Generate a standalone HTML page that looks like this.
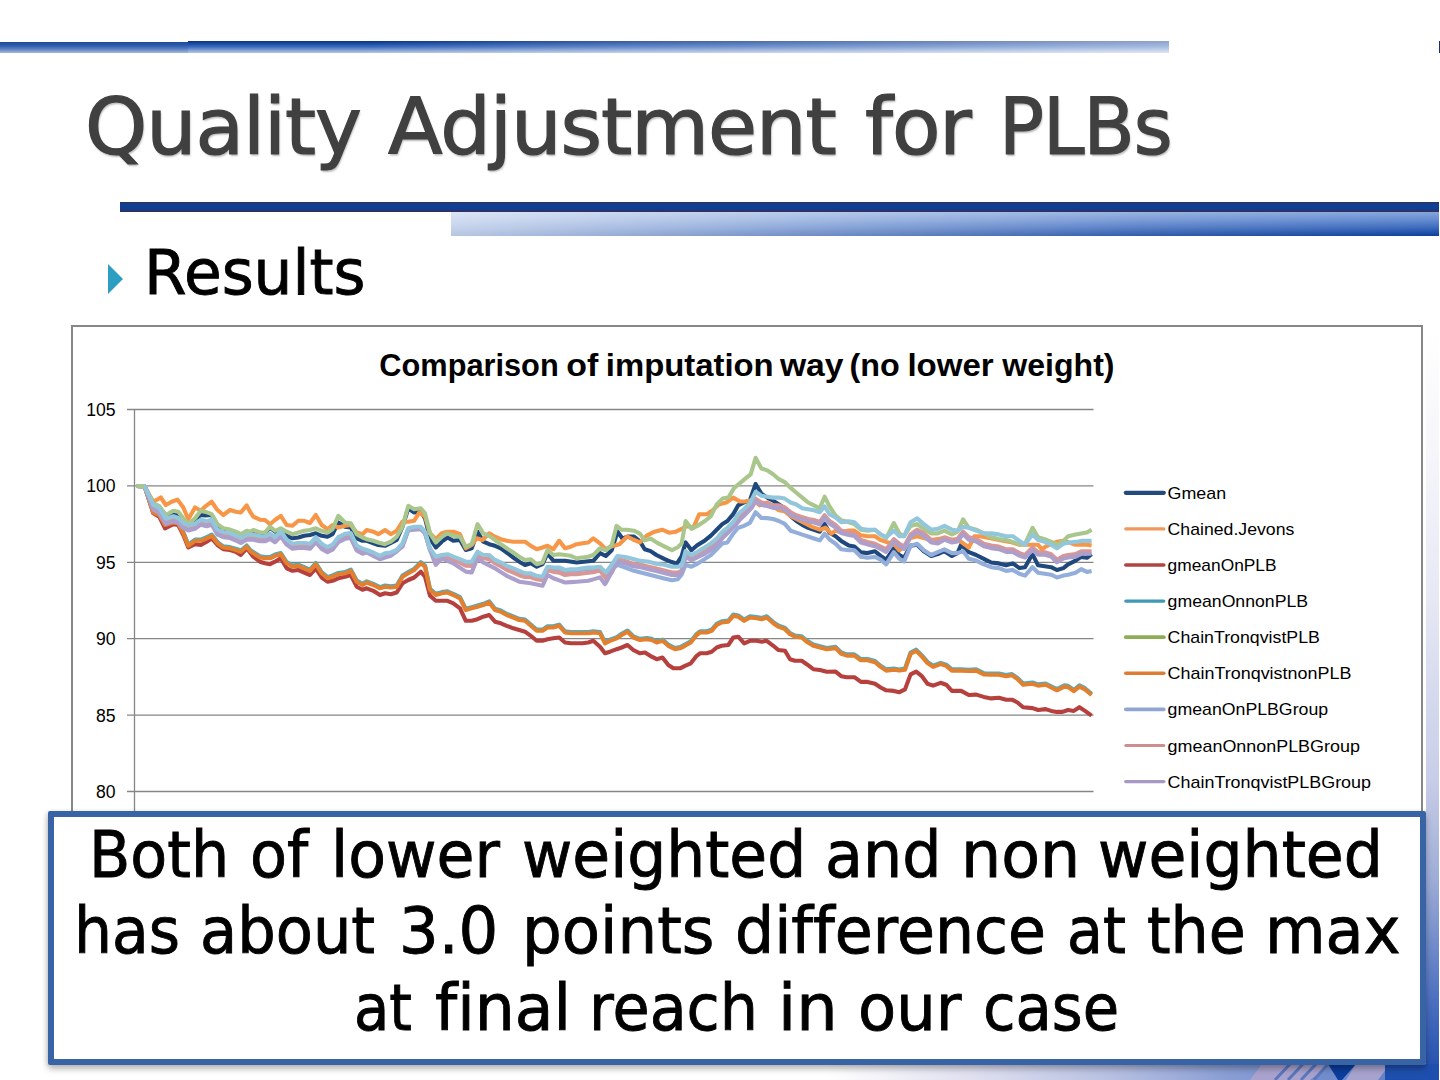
<!DOCTYPE html>
<html><head><meta charset="utf-8"><title>Quality Adjustment for PLBs</title>
<style>
*{margin:0;padding:0;box-sizing:border-box}
html,body{width:1440px;height:1080px;overflow:hidden;background:#fff}
body{position:relative;font-family:"DejaVu Sans","Liberation Sans",sans-serif}
.abs{position:absolute}
#topbarL{left:0;top:42px;width:189px;height:10.5px;background:linear-gradient(to bottom,#1c4a96 0%,#2e5eae 35%,#5b82c4 65%,#a7b8dc 100%)}
#topbarR{left:188px;top:41px;width:981px;height:11.5px;
  background:linear-gradient(to right,rgba(255,255,255,0) 0%,rgba(255,255,255,0) 18%,rgba(255,255,255,.2) 45%,rgba(255,255,255,.42) 80%,rgba(255,255,255,.55) 100%),
  linear-gradient(to bottom,#0a3182 0%,#1d4fa4 25%,#3f6dbd 50%,#7c9cd2 75%,#b9c6e6 100%)}
#topnub{left:1439px;top:41px;width:1px;height:12px;background:#1a2f6e}
#title span{position:absolute;top:72px;font-size:78px;line-height:110px;color:#404040;white-space:nowrap;letter-spacing:-1px;
  -webkit-text-stroke:1.2px #404040;text-shadow:1px 2px 2px rgba(0,0,0,.28);transform-origin:0 0}
#bar1{left:120px;top:202px;width:1319px;height:10px;background:linear-gradient(to bottom,#2c3264 0%,#163e8e 25%,#0a4198 50%,#163c88 75%,#3a2c5c 100%)}
#bar2{left:451px;top:212px;width:988px;height:24px;
  background:linear-gradient(to right,rgba(255,255,255,.7) 0%,rgba(255,255,255,.42) 35%,rgba(255,255,255,.15) 70%,rgba(255,255,255,0) 100%),
  linear-gradient(to bottom,#86a6da 0%,#6189cf 35%,#3d6abd 65%,#1c4ea6 88%,#0c3f9c 100%)}
#bullet{left:108px;top:264px;width:0;height:0;border-top:15px solid transparent;border-bottom:15px solid transparent;border-left:15.5px solid #2b9ec2}
#results{font-size:63px;line-height:76px;color:#000;-webkit-text-stroke:0.9px #000;white-space:nowrap;transform-origin:0 0}
#chart{left:71px;top:325px;width:1352px;height:600px;border:2px solid #878787;background:#fff}
#svg{left:0;top:0}
#box{left:48px;top:811px;width:1378px;height:253.5px;border:6px solid #3864a6;background:#fff;border-radius:2px;
  box-shadow:0 4px 6px rgba(0,0,0,.28), -2px 0 4px rgba(0,0,0,.08)}
.bw{position:absolute;font-variant-ligatures:none;font-size:64px;line-height:76px;color:#000;-webkit-text-stroke:0.9px #000;white-space:nowrap;transform-origin:0 0}
</style></head><body>
<div class="abs" id="topbarL"></div>
<div class="abs" id="topbarR"></div>
<div class="abs" id="topnub"></div>
<div class="abs" id="title"><span style="left:84.94px;transform:scaleX(1.0150)">Quality</span><span style="left:388.00px;transform:scaleX(1.0229)">Adjustment</span><span style="left:864.98px;transform:scaleX(1.0160)">for</span><span style="left:999.30px;transform:scaleX(0.9560)">PLBs</span></div>
<div class="abs" id="bar1"></div>
<div class="abs" id="bar2"></div>
<div class="abs" id="bullet"></div>
<div class="abs" id="results" style="left:144.16px;top:235.3px;transform:scaleX(0.974)">Results</div>
<svg class="abs" style="left:0;top:0" width="1440" height="1080">
<defs>
<linearGradient id="rg" x1="0" y1="0" x2="0" y2="1">
<stop offset="0" stop-color="#ffffff"/>
<stop offset="0.16" stop-color="#f6f6fb"/>
<stop offset="0.36" stop-color="#e6e8f4"/>
<stop offset="0.6" stop-color="#c8cde8"/>
<stop offset="0.733" stop-color="#9eacd6"/>
<stop offset="0.893" stop-color="#4c70c0"/>
<stop offset="1" stop-color="#1e4cac"/>
</linearGradient>
<linearGradient id="bg" x1="0" y1="0" x2="1" y2="0">
<stop offset="0" stop-color="#ffffff"/>
<stop offset="0.58" stop-color="#ffffff"/>
<stop offset="0.68" stop-color="#e0e0f0"/>
<stop offset="0.78" stop-color="#b7c0e2"/>
<stop offset="0.86" stop-color="#8a9ed4"/>
<stop offset="1" stop-color="#5a7cc4"/>
</linearGradient>
</defs>
<rect x="1426" y="330" width="13" height="750" fill="url(#rg)"/>
<rect x="0" y="1064" width="1426" height="16" fill="url(#bg)"/>
<polygon points="1250,1080 1262,1064 1330,1064 1310,1080" fill="#a9a2cc"/>
<polygon points="1328,1064 1356,1064 1342,1080 1338,1080" fill="#0c3c9c"/>
<polygon points="1356,1064 1390,1064 1378,1080 1346,1080" fill="#a7a3cf"/>
<path d="M1275,1080 L1290,1064 M1288,1080 L1303,1064 M1301,1080 L1316,1064 M1314,1080 L1328,1064" stroke="#5b77bf" stroke-width="3"/>
<rect x="1385" y="1064" width="54" height="16" fill="#1f4fae"/>
<rect x="1439" y="330" width="1" height="750" fill="#ffffff"/>
</svg>
<div class="abs" id="chart"></div>
<svg class="abs" id="svg" width="1440" height="1080" viewBox="0 0 1440 1080">
<g font-family="Liberation Sans, sans-serif" font-weight="bold" font-size="31.9" fill="#000">
<text x="379.30" y="375.8" textLength="179.40" lengthAdjust="spacingAndGlyphs">Comparison</text>
<text x="566.20" y="375.8" textLength="32.00" lengthAdjust="spacingAndGlyphs">of</text>
<text x="605.80" y="375.8" textLength="167.90" lengthAdjust="spacingAndGlyphs">imputation</text>
<text x="779.90" y="375.8" textLength="63.60" lengthAdjust="spacingAndGlyphs">way</text>
<text x="849.60" y="375.8" textLength="50.20" lengthAdjust="spacingAndGlyphs">(no</text>
<text x="907.40" y="375.8" textLength="86.30" lengthAdjust="spacingAndGlyphs">lower</text>
<text x="1002.30" y="375.8" textLength="112.20" lengthAdjust="spacingAndGlyphs">weight)</text>
</g>
<g stroke="#868686" stroke-width="1.3">
<line x1="127" y1="409.50" x2="1093.5" y2="409.50"/>
<line x1="127" y1="485.90" x2="1093.5" y2="485.90"/>
<line x1="127" y1="562.30" x2="1093.5" y2="562.30"/>
<line x1="127" y1="638.70" x2="1093.5" y2="638.70"/>
<line x1="127" y1="715.10" x2="1093.5" y2="715.10"/>
<line x1="127" y1="791.50" x2="1093.5" y2="791.50"/>
<line x1="134.5" y1="409" x2="134.5" y2="830"/>
</g>
<g font-family="Liberation Sans, sans-serif" font-size="17.6" fill="#000">
<text x="115.5" y="416.00" text-anchor="end">105</text>
<text x="115.5" y="492.40" text-anchor="end">100</text>
<text x="115.5" y="568.80" text-anchor="end">95</text>
<text x="115.5" y="645.20" text-anchor="end">90</text>
<text x="115.5" y="721.60" text-anchor="end">85</text>
<text x="115.5" y="798.00" text-anchor="end">80</text>
</g>
<g fill="none" stroke-width="4.1" stroke-linejoin="round" stroke-linecap="butt">
<path d="M136.5,486.0 L144.5,486.2 L153.3,503.8 L159.2,506.7 L165.8,515.8 L173.3,513.8 L178.3,515.0 L183.3,520.0 L188.3,525.0 L195.0,519.2 L200.8,515.0 L205.0,515.4 L211.7,515.0 L217.5,525.0 L223.3,529.2 L230.0,530.4 L235.8,532.5 L240.8,535.0 L246.7,531.7 L250.0,532.5 L253.3,530.8 L260.0,533.3 L265.0,533.3 L270.0,527.5 L275.0,531.7 L280.8,530.8 L286.7,535.8 L292.5,538.3 L298.3,537.5 L304.2,535.8 L310.0,535.0 L315.8,533.3 L321.7,535.8 L327.5,536.7 L332.5,534.2 L338.3,522.5 L345.0,526.7 L350.8,527.5 L356.7,538.3 L362.5,540.8 L366.7,540.8 L378.3,545.0 L385.0,545.8 L396.7,540.0 L402.5,526.7 L408.3,508.3 L414.2,512.5 L420.8,511.7 L425.0,518.3 L430.0,538.3 L435.8,547.5 L441.7,541.7 L447.5,537.5 L453.3,540.8 L460.0,540.0 L465.8,550.0 L471.7,548.3 L477.5,531.7 L483.3,541.7 L489.2,544.2 L495.0,545.8 L500.8,548.3 L506.7,552.5 L513.3,557.5 L519.2,561.7 L525.0,565.0 L530.8,563.3 L536.7,566.7 L542.5,564.2 L547.5,553.3 L553.3,560.8 L565.0,560.8 L576.7,562.5 L593.3,560.8 L600.0,553.1 L605.8,556.0 L611.7,550.2 L617.5,531.7 L622.4,538.5 L628.2,536.5 L634.0,536.5 L639.9,541.4 L644.7,549.2 L650.6,551.1 L656.4,555.0 L664.2,558.9 L671.0,561.8 L676.8,563.8 L681.7,556.0 L685.6,542.4 L691.4,550.2 L697.2,545.3 L705.0,540.4 L710.9,535.6 L716.7,529.7 L722.5,523.9 L727.4,521.0 L733.2,514.2 L738.1,505.4 L743.9,502.5 L749.8,500.6 L755.6,484.0 L761.4,493.8 L767.3,497.6 L773.1,500.6 L778.9,504.5 L784.8,508.3 L790.6,516.1 L796.4,521.0 L802.3,524.9 L808.1,527.8 L813.9,529.7 L819.8,531.7 L824.6,523.9 L829.5,532.7 L835.6,536.2 L841.2,540.9 L848.8,545.6 L854.4,546.6 L860.9,552.2 L867.5,553.1 L875.0,551.2 L880.6,555.9 L886.2,559.7 L893.8,548.4 L899.4,555.0 L904.1,557.8 L910.6,545.6 L917.2,544.7 L923.8,551.2 L931.2,555.9 L937.8,554.1 L944.4,551.2 L951.9,555.9 L957.5,553.1 L961.2,544.7 L968.8,552.2 L976.2,555.0 L983.8,558.8 L991.2,562.5 L998.8,563.4 L1006.2,565.3 L1012.8,563.4 L1019.4,568.1 L1025.0,567.2 L1032.5,554.1 L1038.1,565.3 L1044.7,566.2 L1051.2,567.2 L1056.9,570.0 L1063.4,568.1 L1068.1,564.4 L1075.6,560.6 L1081.2,556.9 L1086.9,557.8 L1091.6,554.1" stroke="#1F497D"/>
<path d="M136.5,486.0 L144.5,486.2 L153.3,501.7 L160.8,497.5 L165.8,505.0 L171.7,501.7 L177.5,499.6 L183.3,507.5 L188.3,519.2 L195.0,507.5 L200.8,510.8 L205.0,506.7 L211.7,501.7 L216.7,509.2 L223.3,515.0 L230.0,510.0 L235.8,511.7 L240.8,512.5 L246.7,505.4 L250.0,511.7 L253.3,516.7 L260.0,519.7 L265.0,520.0 L270.0,524.2 L275.0,520.0 L280.8,515.8 L286.7,525.0 L292.5,525.8 L298.3,520.8 L304.2,520.8 L310.0,523.0 L315.8,515.0 L321.7,525.0 L327.5,529.2 L332.5,525.0 L338.3,527.5 L345.0,525.8 L350.8,525.0 L356.7,532.5 L362.5,534.2 L366.7,530.0 L373.3,531.7 L378.3,534.2 L385.0,530.0 L390.8,534.2 L396.7,530.8 L402.5,521.7 L408.3,521.7 L414.2,520.8 L419.2,512.5 L425.0,516.7 L430.0,533.3 L435.8,539.2 L441.7,533.3 L447.5,531.7 L453.3,531.7 L460.0,534.2 L465.8,548.3 L471.7,545.0 L476.7,538.3 L482.5,540.0 L489.2,533.3 L495.0,536.7 L500.8,539.2 L506.7,540.8 L513.3,541.7 L519.2,541.7 L525.0,541.7 L530.8,545.8 L536.7,549.2 L542.5,547.5 L547.5,545.8 L553.3,549.2 L559.2,540.8 L565.0,548.3 L570.8,546.7 L576.7,544.2 L582.5,543.3 L588.3,542.5 L593.3,538.3 L600.0,543.4 L605.8,549.2 L611.7,546.3 L619.4,544.3 L627.2,536.5 L633.1,539.5 L639.9,542.4 L646.7,535.6 L654.5,531.7 L662.2,529.7 L669.0,532.7 L675.9,531.7 L681.7,528.8 L687.5,525.9 L693.4,527.8 L699.2,514.2 L707.0,514.2 L712.8,510.3 L718.6,504.5 L726.4,502.5 L733.2,497.6 L740.0,501.5 L745.9,501.5 L753.6,499.6 L759.5,505.4 L767.3,502.5 L773.1,506.4 L778.9,510.3 L784.8,511.3 L790.6,516.1 L796.4,519.0 L804.2,522.9 L812.0,526.8 L819.8,529.7 L825.6,527.8 L831.4,533.6 L835.6,530.6 L841.2,532.5 L848.8,530.6 L854.4,530.6 L860.9,535.3 L867.5,536.2 L875.0,536.2 L880.6,540.0 L886.2,541.9 L893.8,543.8 L899.4,550.3 L904.1,546.6 L910.6,538.1 L917.2,536.2 L923.8,538.1 L931.2,540.0 L937.8,539.1 L944.4,538.1 L951.9,540.0 L957.5,539.1 L961.2,541.9 L968.8,547.5 L974.4,536.2 L980.0,536.2 L989.4,538.1 L998.8,540.0 L1010.0,541.9 L1019.4,544.7 L1026.9,544.7 L1032.5,544.7 L1038.1,544.7 L1041.9,549.4 L1045.6,546.6 L1051.2,543.8 L1056.9,541.9 L1063.4,540.9 L1070.0,542.8 L1075.6,544.7 L1081.2,544.7 L1086.9,544.7 L1091.6,545.6" stroke="#F79646"/>
<path d="M136.5,486.0 L144.5,486.2 L153.3,513.3 L159.2,516.7 L165.0,528.3 L173.3,524.2 L178.3,525.0 L183.3,535.0 L188.3,547.5 L195.0,544.2 L200.8,545.0 L206.7,541.7 L211.7,538.3 L217.5,545.0 L223.3,549.2 L230.0,550.0 L235.8,551.7 L240.8,555.0 L246.7,548.3 L250.0,552.5 L253.3,556.7 L260.0,561.7 L265.0,563.3 L270.0,564.2 L275.0,561.7 L280.8,558.3 L286.7,568.3 L292.5,570.8 L298.3,570.0 L304.2,572.5 L310.0,575.0 L315.8,568.3 L321.7,577.5 L327.5,581.7 L332.5,580.8 L338.3,578.3 L345.0,576.7 L350.8,575.0 L356.7,586.7 L362.5,589.7 L366.7,588.3 L373.3,590.8 L380.0,595.0 L385.0,593.3 L390.8,594.2 L396.7,592.5 L402.5,583.3 L408.3,580.0 L414.2,577.5 L420.8,571.7 L425.0,576.7 L430.0,595.8 L435.8,600.8 L441.7,600.8 L447.5,600.8 L453.3,603.3 L460.0,608.3 L465.8,620.8 L471.7,620.8 L477.5,619.2 L483.3,616.7 L489.2,615.0 L495.0,621.7 L500.8,623.3 L506.7,625.8 L513.3,628.3 L519.2,630.0 L525.0,631.7 L530.8,635.8 L536.7,640.8 L542.5,640.8 L547.5,639.2 L553.3,638.3 L559.2,637.5 L565.0,642.5 L570.8,643.3 L576.7,643.3 L582.5,643.3 L588.3,642.5 L593.3,640.8 L600.0,646.7 L605.0,653.3 L610.0,651.7 L616.7,649.2 L621.7,647.5 L627.5,645.0 L633.3,650.0 L640.0,653.3 L645.0,652.5 L651.7,656.7 L656.7,659.2 L662.5,657.5 L668.3,665.0 L673.3,668.3 L680.0,668.3 L685.0,665.8 L690.8,663.3 L696.7,655.8 L700.0,653.3 L706.7,653.3 L711.7,651.7 L716.7,647.5 L721.7,645.8 L728.3,645.0 L733.3,637.5 L738.3,636.7 L744.2,643.3 L750.0,640.8 L756.7,640.8 L761.7,641.7 L766.7,640.8 L773.3,645.8 L778.3,650.0 L785.0,650.8 L790.0,659.2 L795.0,660.8 L801.7,660.8 L806.7,664.2 L813.3,669.2 L820.0,670.0 L826.7,671.7 L835.6,671.6 L841.2,676.2 L846.9,677.2 L854.4,677.2 L860.9,681.9 L867.5,681.9 L875.0,683.8 L880.6,687.5 L886.2,690.3 L893.8,690.9 L899.4,692.2 L905.0,689.4 L910.6,674.4 L916.2,671.6 L921.9,676.2 L927.5,683.8 L933.1,685.6 L940.6,682.8 L946.2,684.7 L951.9,690.9 L961.2,690.9 L968.8,695.0 L976.2,694.6 L983.8,696.9 L991.2,698.4 L998.8,697.8 L1006.2,699.7 L1011.9,699.7 L1017.5,702.5 L1023.1,707.2 L1032.5,708.1 L1038.1,710.0 L1045.6,709.1 L1051.2,710.9 L1056.9,711.9 L1062.5,711.9 L1068.1,710.0 L1073.8,710.9 L1079.4,707.2 L1085.0,710.9 L1091.6,715.6" stroke="#B5403E"/>
<path d="M136.5,486.0 L144.5,486.2 L153.3,511.3 L159.2,513.8 L165.0,523.8 L173.3,521.3 L178.3,522.1 L183.3,532.1 L188.3,544.6 L195.0,539.6 L200.8,539.6 L206.7,537.1 L211.7,534.6 L217.5,542.1 L223.3,546.3 L230.0,547.1 L235.8,548.8 L240.8,550.5 L246.7,545.5 L250.0,549.6 L253.3,552.1 L260.0,556.3 L265.0,557.1 L270.0,557.1 L275.0,554.6 L280.8,553.0 L286.7,562.1 L292.5,565.5 L298.3,564.6 L304.2,567.1 L310.0,569.6 L315.8,563.0 L321.7,572.1 L327.5,577.1 L332.5,575.5 L338.3,573.0 L345.0,572.1 L350.8,569.6 L356.7,580.5 L362.5,583.8 L366.7,581.3 L373.3,583.8 L380.0,587.1 L385.0,585.5 L390.8,586.3 L396.7,585.5 L402.5,575.5 L408.3,572.1 L414.2,568.8 L420.8,562.1 L425.0,565.5 L430.0,588.8 L435.8,593.8 L441.7,592.1 L447.5,591.3 L453.3,593.8 L460.0,597.1 L465.8,608.8 L471.7,607.1 L477.5,605.5 L483.3,603.8 L489.2,601.3 L495.0,608.8 L500.8,610.5 L506.7,613.8 L513.3,616.3 L519.2,618.8 L525.0,619.6 L530.8,624.6 L536.7,629.6 L542.5,629.6 L547.5,626.3 L553.3,626.3 L559.2,624.6 L565.0,631.3 L570.8,632.1 L576.7,632.1 L582.5,632.1 L588.3,632.1 L593.3,631.3 L600.0,632.1 L605.0,642.1 L610.0,639.6 L616.7,637.1 L621.7,633.8 L627.5,630.5 L633.3,636.3 L640.0,638.8 L646.7,638.0 L651.7,638.8 L656.7,641.3 L662.5,639.6 L668.3,644.6 L675.0,648.0 L680.0,647.1 L685.0,644.6 L690.8,641.3 L696.7,633.8 L700.0,631.3 L706.7,631.3 L711.7,629.6 L716.7,623.8 L721.7,621.3 L728.3,620.5 L733.3,614.6 L738.3,615.5 L744.2,619.6 L750.0,616.3 L756.7,617.1 L761.7,618.0 L766.7,616.3 L773.3,622.1 L778.3,625.5 L785.0,628.0 L790.0,633.0 L795.0,635.5 L801.7,636.3 L806.7,640.5 L813.3,644.6 L820.0,646.3 L826.7,648.0 L835.6,646.9 L841.2,652.5 L846.9,654.4 L854.4,654.4 L860.9,659.1 L867.5,659.1 L875.0,661.0 L880.6,665.7 L886.2,669.4 L893.8,668.5 L899.4,669.4 L905.0,668.5 L910.6,652.5 L916.2,649.7 L921.9,655.4 L927.5,661.9 L933.1,665.7 L940.6,662.9 L946.2,664.7 L951.9,669.4 L961.2,669.4 L968.8,669.8 L976.2,669.4 L983.8,673.2 L991.2,673.5 L998.8,673.5 L1006.2,675.0 L1011.9,674.1 L1017.5,677.9 L1023.1,683.5 L1032.5,682.5 L1038.1,684.4 L1045.6,683.5 L1051.2,686.3 L1056.9,689.1 L1064.4,685.4 L1068.1,685.9 L1073.8,690.0 L1079.4,685.4 L1085.0,688.2 L1091.6,693.8" stroke="#4BACC6"/>
<path d="M136.5,486.0 L144.5,486.2 L153.3,503.3 L159.2,506.2 L165.8,515.0 L173.3,510.8 L178.3,511.7 L183.3,518.3 L188.3,524.2 L195.0,518.3 L200.8,510.8 L205.0,511.7 L211.7,514.2 L217.5,524.2 L223.3,528.3 L230.0,529.6 L235.8,531.7 L240.8,534.2 L246.7,530.8 L250.0,531.7 L253.3,530.0 L260.0,532.5 L265.0,532.5 L270.0,526.7 L275.0,530.8 L280.8,528.3 L286.7,531.7 L292.5,534.2 L298.3,532.5 L304.2,530.8 L310.0,530.0 L315.8,528.3 L321.7,530.8 L327.5,532.5 L332.5,529.2 L338.3,515.8 L345.0,522.5 L350.8,523.3 L356.7,534.2 L362.5,537.5 L366.7,539.2 L373.3,540.8 L378.3,542.5 L385.0,544.2 L390.8,541.7 L396.7,536.7 L402.5,526.7 L408.3,505.8 L414.2,509.2 L420.8,508.3 L425.0,513.3 L430.0,533.3 L435.8,542.5 L441.7,536.7 L447.5,533.3 L453.3,535.8 L460.0,536.7 L465.8,546.7 L471.7,544.2 L477.5,524.2 L483.3,533.3 L489.2,535.8 L495.0,540.0 L500.8,544.2 L506.7,548.3 L513.3,552.5 L519.2,556.7 L525.0,560.0 L530.8,559.2 L536.7,564.2 L542.5,562.5 L547.5,550.0 L553.3,555.0 L559.2,554.2 L565.0,555.0 L570.8,555.8 L576.7,558.3 L582.5,557.5 L588.3,556.7 L593.3,555.0 L600.0,548.2 L605.8,550.2 L611.7,545.3 L616.5,525.9 L621.4,529.7 L627.2,529.7 L634.0,530.7 L639.9,533.6 L644.7,540.4 L650.6,538.5 L656.4,542.4 L664.2,546.3 L672.0,550.2 L677.8,547.2 L681.7,543.4 L685.6,521.0 L691.4,528.8 L697.2,525.9 L705.0,521.0 L710.9,516.1 L716.7,504.5 L722.5,498.6 L728.4,497.6 L734.2,487.9 L740.0,483.1 L745.9,478.2 L750.7,474.3 L755.6,457.8 L761.4,468.5 L767.3,470.4 L773.1,474.3 L778.9,479.2 L784.8,482.1 L790.6,487.9 L796.4,492.8 L802.3,497.6 L808.1,502.5 L813.9,505.4 L819.8,508.3 L824.6,496.7 L829.5,506.4 L835.6,515.6 L841.2,520.3 L848.8,522.2 L854.4,524.1 L860.9,529.7 L867.5,530.6 L875.0,529.7 L880.6,534.4 L886.2,538.1 L893.8,523.1 L899.4,533.4 L904.1,536.2 L910.6,525.9 L917.2,524.1 L923.8,528.8 L931.2,533.4 L937.8,533.4 L944.4,530.6 L951.9,534.4 L957.5,531.6 L963.1,519.4 L968.8,527.8 L976.2,529.7 L983.8,533.4 L991.2,537.2 L998.8,539.1 L1006.2,540.0 L1012.8,541.9 L1019.4,544.7 L1025.0,543.8 L1032.5,527.8 L1038.1,537.2 L1044.7,539.1 L1051.2,541.9 L1056.9,544.7 L1063.4,540.9 L1068.1,536.2 L1075.6,534.4 L1081.2,533.4 L1086.9,532.5 L1091.6,529.7" stroke="#A9C68C"/>
<path d="M136.5,486.0 L144.5,486.2 L153.3,512.5 L159.2,515.0 L165.0,525.0 L173.3,522.5 L178.3,523.3 L183.3,533.3 L188.3,545.8 L195.0,540.8 L200.8,540.8 L206.7,538.3 L211.7,535.8 L217.5,543.3 L223.3,547.5 L230.0,548.3 L235.8,550.0 L240.8,551.7 L246.7,546.7 L250.0,550.8 L253.3,553.3 L260.0,557.5 L265.0,558.3 L270.0,558.3 L275.0,555.8 L280.8,554.2 L286.7,563.3 L292.5,566.7 L298.3,565.8 L304.2,568.3 L310.0,570.8 L315.8,564.2 L321.7,573.3 L327.5,578.3 L332.5,576.7 L338.3,574.2 L345.0,573.3 L350.8,570.8 L356.7,581.7 L362.5,585.0 L366.7,582.5 L373.3,585.0 L380.0,588.3 L385.0,586.7 L390.8,587.5 L396.7,586.7 L402.5,576.7 L408.3,573.3 L414.2,570.0 L420.8,563.3 L425.0,566.7 L430.0,590.0 L435.8,595.0 L441.7,593.3 L447.5,592.5 L453.3,595.0 L460.0,598.3 L465.8,610.0 L471.7,608.3 L477.5,606.7 L483.3,605.0 L489.2,602.5 L495.0,610.0 L500.8,611.7 L506.7,615.0 L513.3,617.5 L519.2,620.0 L525.0,620.8 L530.8,625.8 L536.7,630.8 L542.5,630.8 L547.5,627.5 L553.3,627.5 L559.2,625.8 L565.0,632.5 L570.8,633.3 L576.7,633.3 L582.5,633.3 L588.3,633.3 L593.3,632.5 L600.0,633.3 L605.0,643.3 L610.0,640.8 L616.7,638.3 L621.7,635.0 L627.5,631.7 L633.3,637.5 L640.0,640.0 L646.7,639.2 L651.7,640.0 L656.7,642.5 L662.5,640.8 L668.3,645.8 L675.0,649.2 L680.0,648.3 L685.0,645.8 L690.8,642.5 L696.7,635.0 L700.0,632.5 L706.7,632.5 L711.7,630.8 L716.7,625.0 L721.7,622.5 L728.3,621.7 L733.3,615.8 L738.3,616.7 L744.2,620.8 L750.0,617.5 L756.7,618.3 L761.7,619.2 L766.7,617.5 L773.3,623.3 L778.3,626.7 L785.0,629.2 L790.0,634.2 L795.0,636.7 L801.7,637.5 L806.7,641.7 L813.3,645.8 L820.0,647.5 L826.7,649.2 L835.6,648.1 L841.2,653.8 L846.9,655.6 L854.4,655.6 L860.9,660.3 L867.5,660.3 L875.0,662.2 L880.6,666.9 L886.2,670.6 L893.8,669.7 L899.4,670.6 L905.0,669.7 L910.6,653.8 L916.2,650.9 L921.9,656.6 L927.5,663.1 L933.1,666.9 L940.6,664.1 L946.2,665.9 L951.9,670.6 L961.2,670.6 L968.8,671.0 L976.2,670.6 L983.8,674.4 L991.2,674.8 L998.8,674.8 L1006.2,676.2 L1011.9,675.3 L1017.5,679.1 L1023.1,684.7 L1032.5,683.8 L1038.1,685.6 L1045.6,684.7 L1051.2,687.5 L1056.9,690.3 L1064.4,686.6 L1068.1,687.1 L1073.8,691.2 L1079.4,686.6 L1085.0,689.4 L1091.6,695.0" stroke="#E3802E"/>
<path d="M136.5,486.0 L144.5,486.2 L153.3,506.1 L159.2,509.6 L165.8,520.3 L173.3,517.8 L178.3,519.5 L183.3,524.5 L188.3,527.0 L195.0,525.3 L200.8,521.2 L206.7,522.8 L211.7,521.2 L217.5,531.2 L223.3,533.7 L230.0,534.5 L235.8,537.0 L240.8,539.5 L246.7,536.2 L250.0,536.2 L253.3,536.2 L260.0,537.8 L265.0,537.8 L270.0,535.3 L275.0,538.7 L280.8,532.9 L286.7,541.2 L292.5,545.3 L298.3,544.5 L304.2,544.5 L310.0,545.3 L315.8,538.7 L321.7,545.4 L327.5,548.7 L332.5,546.2 L338.3,538.7 L345.0,535.3 L350.8,534.5 L356.7,547.0 L362.5,550.3 L366.7,551.5 L373.3,554.0 L380.0,557.3 L385.0,554.8 L390.8,554.0 L396.7,551.5 L402.5,544.8 L408.3,529.9 L414.2,528.2 L420.8,528.2 L425.0,533.2 L430.0,549.8 L435.8,558.1 L441.7,556.5 L447.5,555.7 L453.3,558.2 L460.0,560.7 L465.8,563.2 L471.7,563.1 L477.5,553.2 L483.3,556.5 L489.2,556.5 L495.0,561.5 L500.8,564.0 L506.7,567.3 L513.3,569.8 L519.2,572.3 L525.0,574.8 L530.8,574.8 L536.7,577.3 L542.5,578.2 L547.5,568.2 L553.3,569.0 L559.2,569.0 L565.0,571.5 L570.8,570.7 L576.7,570.7 L582.5,569.8 L588.3,569.0 L593.3,569.0 L600.0,568.2 L604.9,573.1 L605.8,574.0 L617.5,564.8 L625.3,567.7 L633.1,570.6 L640.8,572.5 L648.6,574.5 L656.4,576.4 L664.2,578.4 L672.0,580.3 L677.8,579.3 L681.7,574.4 L685.6,564.8 L691.4,566.7 L697.2,563.8 L705.0,558.9 L710.9,555.0 L716.7,549.2 L722.5,543.4 L727.4,542.4 L728.4,540.9 L733.2,533.7 L734.2,532.5 L738.1,527.8 L740.0,527.2 L743.9,525.9 L745.9,524.9 L749.8,522.9 L751.7,519.4 L755.6,512.2 L761.4,518.0 L767.3,518.1 L773.1,519.0 L778.9,521.0 L784.8,523.9 L790.6,530.7 L796.4,532.6 L802.3,534.6 L808.1,536.5 L813.9,538.5 L819.8,540.4 L824.6,533.7 L829.5,539.5 L835.6,543.7 L841.2,549.3 L848.8,550.3 L854.4,550.3 L860.9,556.8 L867.5,557.8 L875.0,556.9 L880.6,559.7 L886.2,564.3 L893.8,552.2 L899.4,558.8 L904.1,561.5 L910.6,545.7 L917.2,543.8 L923.8,550.3 L931.2,555.0 L937.8,552.2 L944.4,549.4 L951.9,553.1 L957.5,553.1 L963.1,551.3 L968.8,558.8 L976.2,560.6 L983.8,564.4 L991.2,567.2 L998.8,568.1 L1006.2,570.9 L1012.8,570.0 L1019.4,573.8 L1025.0,575.6 L1032.5,567.2 L1038.1,572.8 L1044.7,573.8 L1051.2,574.7 L1056.9,577.5 L1063.4,575.6 L1068.1,574.7 L1075.6,572.8 L1081.2,569.1 L1086.9,571.9 L1091.6,570.9" stroke="#93AEDA"/>
<path d="M136.5,486.0 L144.5,486.2 L153.3,507.7 L159.2,511.0 L165.8,521.8 L173.3,519.3 L178.3,521.0 L183.3,526.0 L188.3,528.5 L195.0,526.8 L200.8,522.7 L206.7,524.3 L211.7,522.7 L217.5,532.7 L223.3,535.2 L230.0,536.0 L235.8,538.5 L240.8,541.0 L246.7,537.7 L250.0,537.7 L253.3,537.7 L260.0,539.3 L265.0,539.3 L270.0,536.8 L275.0,540.2 L280.8,534.3 L286.7,542.7 L292.5,546.8 L298.3,546.0 L304.2,546.0 L310.0,546.8 L315.8,540.2 L321.7,546.8 L327.5,550.2 L332.5,547.7 L338.3,540.2 L345.0,536.8 L350.8,536.0 L356.7,548.5 L362.5,551.8 L366.7,551.0 L373.3,553.8 L380.0,557.2 L385.0,555.1 L390.8,553.8 L396.7,550.5 L402.5,544.7 L408.3,529.0 L414.2,527.8 L420.8,527.7 L425.0,532.3 L430.0,549.0 L435.8,560.0 L441.7,556.3 L447.5,556.8 L453.3,559.3 L460.0,562.6 L465.8,565.7 L471.7,566.0 L477.5,554.3 L483.3,558.0 L489.2,559.2 L495.0,563.3 L500.8,566.3 L506.7,569.8 L513.3,572.6 L519.2,575.2 L525.0,577.0 L530.8,577.3 L536.7,579.3 L542.5,580.3 L547.5,570.0 L553.3,571.8 L559.2,572.7 L565.0,575.0 L570.8,574.3 L576.7,574.2 L582.5,573.5 L588.3,572.8 L593.3,572.2 L600.0,570.6 L605.8,578.4 L611.7,572.5 L617.5,558.9 L625.3,560.9 L633.1,563.8 L640.8,564.7 L648.6,566.7 L656.4,568.6 L664.2,570.6 L672.0,572.5 L677.8,572.5 L681.7,570.6 L685.6,554.1 L691.4,557.9 L697.2,555.0 L705.0,551.1 L710.9,547.2 L716.7,542.4 L722.5,535.6 L728.4,529.7 L734.2,523.9 L740.0,517.1 L745.9,511.3 L751.7,505.4 L755.6,498.6 L761.4,502.5 L767.3,503.5 L773.1,505.4 L778.9,505.4 L784.8,507.4 L790.6,512.2 L796.4,515.2 L802.3,517.1 L808.1,519.0 L813.9,520.0 L819.8,522.0 L824.6,515.2 L829.5,521.0 L835.6,525.0 L841.2,530.6 L848.8,532.5 L854.4,533.4 L860.9,540.0 L867.5,541.9 L875.0,543.8 L880.6,546.6 L886.2,549.4 L893.8,539.1 L899.4,543.8 L904.1,546.6 L910.6,534.4 L917.2,529.7 L923.8,533.4 L931.2,540.0 L937.8,540.9 L944.4,537.2 L951.9,540.0 L957.5,539.1 L963.1,531.6 L968.8,537.2 L976.2,539.1 L983.8,543.8 L991.2,545.6 L998.8,546.6 L1006.2,549.4 L1012.8,549.4 L1019.4,553.1 L1025.0,555.0 L1032.5,547.5 L1038.1,552.2 L1044.7,552.2 L1051.2,554.1 L1056.9,559.7 L1063.4,555.9 L1068.1,555.0 L1075.6,554.1 L1081.2,551.2 L1086.9,551.2 L1091.6,551.2" stroke="#D99694"/>
<path d="M136.5,486.0 L144.5,486.2 L153.3,509.6 L159.2,513.1 L165.8,523.8 L173.3,521.3 L178.3,523.0 L183.3,528.0 L188.3,530.5 L195.0,528.8 L200.8,524.7 L206.7,526.3 L211.7,524.7 L217.5,534.7 L223.3,537.2 L230.0,538.0 L235.8,540.5 L240.8,543.0 L246.7,539.7 L250.0,539.7 L253.3,539.7 L260.0,541.3 L265.0,541.3 L270.0,538.8 L275.0,542.2 L280.8,536.4 L286.7,544.7 L292.5,548.8 L298.3,548.0 L304.2,548.0 L310.0,548.8 L315.8,542.2 L321.7,548.9 L327.5,552.2 L332.5,549.7 L338.3,542.2 L345.0,538.8 L350.8,538.0 L356.7,550.5 L362.5,553.8 L366.7,552.5 L373.3,555.8 L380.0,559.2 L385.0,557.6 L390.8,555.8 L396.7,551.2 L402.5,546.7 L408.3,530.1 L414.2,529.6 L420.8,529.2 L425.0,533.3 L430.0,550.0 L435.8,564.9 L441.7,558.3 L447.5,560.8 L453.3,563.3 L460.0,567.8 L465.8,571.6 L471.7,572.4 L477.5,558.3 L483.3,562.5 L489.2,565.4 L495.0,568.3 L500.8,572.1 L506.7,575.8 L513.3,578.9 L519.2,581.7 L525.0,582.5 L530.8,583.3 L536.7,584.6 L542.5,585.8 L547.5,575.0 L553.3,578.3 L559.2,580.4 L565.0,582.5 L570.8,582.1 L576.7,581.7 L582.5,581.2 L588.3,580.8 L593.3,579.4 L600.0,577.4 L604.9,584.1 L605.8,582.9 L617.5,561.4 L625.3,563.4 L633.1,566.3 L640.8,567.2 L648.6,569.2 L656.4,571.1 L664.2,573.1 L672.0,575.0 L677.8,575.0 L681.7,573.0 L685.6,556.6 L691.4,560.4 L697.2,557.5 L705.0,553.6 L710.9,549.7 L716.7,544.9 L722.5,538.1 L727.4,533.2 L728.4,532.2 L733.2,527.4 L734.2,526.4 L738.1,521.9 L740.0,519.6 L743.9,515.7 L745.9,513.7 L749.8,509.8 L751.7,507.9 L755.6,501.1 L761.4,505.0 L767.3,506.0 L773.1,507.9 L778.9,507.9 L784.8,509.9 L790.6,514.7 L796.4,517.6 L802.3,519.6 L808.1,521.5 L813.9,522.5 L819.8,524.4 L824.6,517.7 L829.5,523.5 L835.6,527.5 L841.2,533.1 L848.8,535.0 L854.4,536.0 L860.9,542.5 L867.5,544.4 L875.0,546.2 L880.6,549.0 L886.2,551.9 L893.8,541.6 L899.4,546.3 L904.1,549.0 L910.6,536.9 L917.2,532.2 L923.8,536.0 L931.2,542.5 L937.8,543.4 L944.4,539.7 L951.9,542.5 L957.5,541.6 L963.1,534.1 L968.8,539.7 L976.2,541.5 L983.8,546.3 L991.2,548.1 L998.8,549.1 L1006.2,551.9 L1012.8,551.9 L1019.4,555.6 L1025.0,557.5 L1032.5,550.0 L1038.1,554.7 L1044.7,554.7 L1051.2,556.5 L1056.9,562.2 L1063.4,558.5 L1068.1,557.5 L1075.6,556.6 L1081.2,553.8 L1086.9,553.8 L1091.6,553.8" stroke="#AC9FCB"/>
<path d="M136.5,486.0 L144.5,486.2 L153.3,504.7 L159.2,508.0 L165.8,518.8 L173.3,516.3 L178.3,518.0 L183.3,523.0 L188.3,525.5 L195.0,523.8 L200.8,519.7 L206.7,521.3 L211.7,519.7 L217.5,529.7 L223.3,532.2 L230.0,533.0 L235.8,535.5 L240.8,538.0 L246.7,534.7 L250.0,534.7 L253.3,534.7 L260.0,536.3 L265.0,536.3 L270.0,533.8 L275.0,537.2 L280.8,531.3 L286.7,539.7 L292.5,543.8 L298.3,543.0 L304.2,543.0 L310.0,543.8 L315.8,537.2 L321.7,543.8 L327.5,547.2 L332.5,544.7 L338.3,537.2 L345.0,533.8 L350.8,533.0 L356.7,545.5 L362.5,548.8 L366.7,550.0 L373.3,552.5 L380.0,555.8 L385.0,553.3 L390.8,552.5 L396.7,550.0 L402.5,543.3 L408.3,528.3 L414.2,526.7 L420.8,526.7 L425.0,531.7 L430.0,548.3 L435.8,556.7 L441.7,555.0 L447.5,554.2 L453.3,556.7 L460.0,559.2 L465.8,561.7 L471.7,561.7 L477.5,551.7 L483.3,555.0 L489.2,555.0 L495.0,560.0 L500.8,562.5 L506.7,565.8 L513.3,568.3 L519.2,570.8 L525.0,573.3 L530.8,573.3 L536.7,575.8 L542.5,576.7 L547.5,566.7 L553.3,567.5 L559.2,567.5 L565.0,570.0 L570.8,569.2 L576.7,569.2 L582.5,568.3 L588.3,567.5 L593.3,567.5 L600.0,566.7 L605.8,572.5 L611.7,564.7 L617.5,556.0 L625.3,557.0 L633.1,558.9 L640.8,560.9 L648.6,561.8 L656.4,563.8 L664.2,564.7 L672.0,566.7 L677.8,566.7 L681.7,565.7 L685.6,551.1 L691.4,555.0 L697.2,552.1 L705.0,547.2 L710.9,543.4 L716.7,538.5 L722.5,531.7 L727.4,527.8 L733.2,522.0 L738.1,514.2 L743.9,509.3 L749.8,503.5 L755.6,491.8 L761.4,495.7 L767.3,496.7 L773.1,497.6 L778.9,497.6 L784.8,498.6 L790.6,502.5 L796.4,504.5 L802.3,508.3 L808.1,509.3 L813.9,510.3 L819.8,512.2 L824.6,506.4 L829.5,514.2 L835.6,517.5 L841.2,522.2 L848.8,521.2 L854.4,522.2 L860.9,528.8 L867.5,529.7 L875.0,529.7 L880.6,534.4 L886.2,537.2 L893.8,530.6 L899.4,536.2 L904.1,536.2 L910.6,522.2 L917.2,518.4 L923.8,524.1 L931.2,529.7 L937.8,528.8 L944.4,525.9 L951.9,529.7 L957.5,530.6 L963.1,526.9 L968.8,527.8 L976.2,530.6 L983.8,533.4 L991.2,533.4 L998.8,534.4 L1006.2,536.2 L1012.8,536.2 L1019.4,540.9 L1025.0,544.7 L1032.5,534.4 L1038.1,540.0 L1044.7,541.9 L1051.2,544.7 L1056.9,548.4 L1063.4,543.8 L1068.1,542.8 L1075.6,541.9 L1081.2,540.9 L1086.9,540.9 L1091.6,540.9" stroke="#91C6DD"/>
<path d="M136.5,486.0 L144.5,486.2" stroke="#A9C68C"/>
</g>
<g font-family="Liberation Sans, sans-serif" font-size="17" fill="#000">
<line x1="1125.8" y1="492.8" x2="1163.8" y2="492.8" stroke="#23497E" stroke-width="4.2" stroke-linecap="round"/>
<text x="1167.6" y="498.8" textLength="58.5" lengthAdjust="spacingAndGlyphs">Gmean</text>
<line x1="1125.8" y1="528.9" x2="1163.8" y2="528.9" stroke="#F0995C" stroke-width="3.2" stroke-linecap="round"/>
<text x="1167.6" y="534.9" textLength="126.7" lengthAdjust="spacingAndGlyphs">Chained.Jevons</text>
<line x1="1125.8" y1="565.0" x2="1163.8" y2="565.0" stroke="#B04442" stroke-width="3.6" stroke-linecap="round"/>
<text x="1167.6" y="571.0" textLength="109.0" lengthAdjust="spacingAndGlyphs">gmeanOnPLB</text>
<line x1="1125.8" y1="601.1" x2="1163.8" y2="601.1" stroke="#3E98B6" stroke-width="3.2" stroke-linecap="round"/>
<text x="1167.6" y="607.1" textLength="140.5" lengthAdjust="spacingAndGlyphs">gmeanOnnonPLB</text>
<line x1="1125.8" y1="637.2" x2="1163.8" y2="637.2" stroke="#8DAE55" stroke-width="3.8" stroke-linecap="round"/>
<text x="1167.6" y="643.2" textLength="152.3" lengthAdjust="spacingAndGlyphs">ChainTronqvistPLB</text>
<line x1="1125.8" y1="673.3" x2="1163.8" y2="673.3" stroke="#E07B33" stroke-width="3.4" stroke-linecap="round"/>
<text x="1167.6" y="679.3" textLength="183.8" lengthAdjust="spacingAndGlyphs">ChainTronqvistnonPLB</text>
<line x1="1125.8" y1="709.4" x2="1163.8" y2="709.4" stroke="#8EA6D0" stroke-width="3.6" stroke-linecap="round"/>
<text x="1167.6" y="715.4" textLength="160.5" lengthAdjust="spacingAndGlyphs">gmeanOnPLBGroup</text>
<line x1="1125.8" y1="745.5" x2="1163.8" y2="745.5" stroke="#CF8E8E" stroke-width="3.0" stroke-linecap="round"/>
<text x="1167.6" y="751.5" textLength="192.3" lengthAdjust="spacingAndGlyphs">gmeanOnnonPLBGroup</text>
<line x1="1125.8" y1="781.6" x2="1163.8" y2="781.6" stroke="#A899C4" stroke-width="3.4" stroke-linecap="round"/>
<text x="1167.6" y="787.6" textLength="203.4" lengthAdjust="spacingAndGlyphs">ChainTronqvistPLBGroup</text>
<line x1="1125.8" y1="817.7" x2="1163.8" y2="817.7" stroke="#8FC8DA" stroke-width="3.2" stroke-linecap="round"/>
<text x="1167.6" y="823.7" textLength="228.4" lengthAdjust="spacingAndGlyphs">ChainTronqvistnonPLBGroup</text>
</g>
</svg>
<div class="abs" id="box"></div>
<div id="boxtext"><span class="bw" style="left:89.35px;top:816.8px;transform:scaleX(0.942)">Both</span><span class="bw" style="left:250.46px;top:816.8px;transform:scaleX(0.945)">of</span><span class="bw" style="left:330.91px;top:816.8px;transform:scaleX(0.9647)">lower</span><span class="bw" style="left:522.08px;top:816.8px;transform:scaleX(0.9609)">weighted</span><span class="bw" style="left:825.4px;top:816.8px;transform:scaleX(0.9679)">and</span><span class="bw" style="left:961.05px;top:816.8px;transform:scaleX(0.9909)">non</span><span class="bw" style="left:1098.07px;top:816.8px;transform:scaleX(0.963)">weighted</span><span class="bw" style="left:73.61px;top:892.5px;transform:scaleX(0.9371)">has</span><span class="bw" style="left:200.45px;top:892.5px;transform:scaleX(0.9486)">about</span><span class="bw" style="left:399.4px;top:892.5px;transform:scaleX(0.9755)">3.0</span><span class="bw" style="left:521.81px;top:892.5px;transform:scaleX(0.9788)">points</span><span class="bw" style="left:735.4px;top:892.5px;transform:scaleX(0.9652)">difference</span><span class="bw" style="left:1067.25px;top:892.5px;transform:scaleX(0.9167)">at</span><span class="bw" style="left:1147.36px;top:892.5px;transform:scaleX(0.9406)">the</span><span class="bw" style="left:1265.14px;top:892.5px;transform:scaleX(0.972)">max</span><span class="bw" style="left:354.0px;top:969.8px;transform:scaleX(0.9017)">at</span><span class="bw" style="left:434.81px;top:969.8px;transform:scaleX(0.9863)">final</span><span class="bw" style="left:589.48px;top:969.8px;transform:scaleX(0.9432)">reach</span><span class="bw" style="left:778.07px;top:969.8px;transform:scaleX(1.0213)">in</span><span class="bw" style="left:857.68px;top:969.8px;transform:scaleX(0.975)">our</span><span class="bw" style="left:982.82px;top:969.8px;transform:scaleX(0.9255)">case</span></div>
</body></html>
